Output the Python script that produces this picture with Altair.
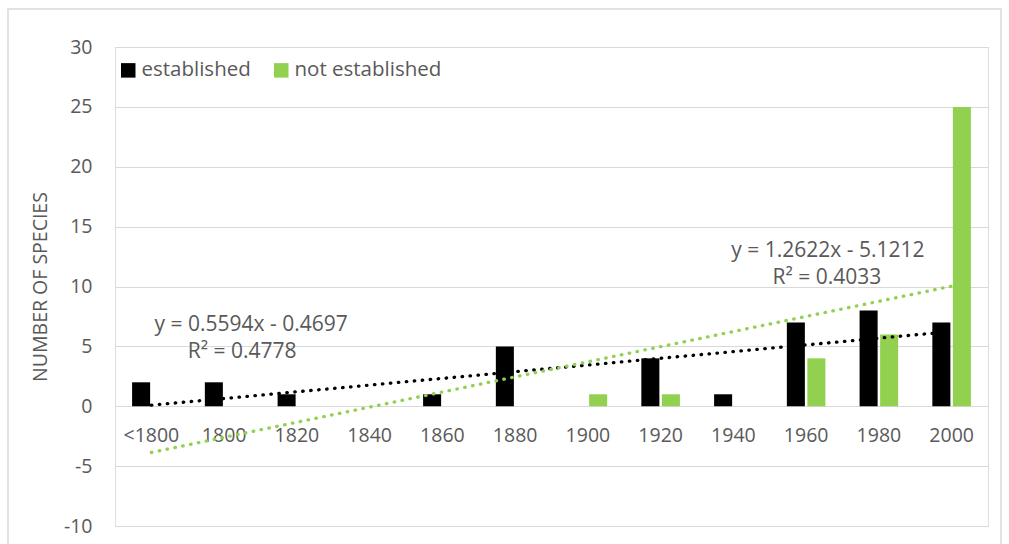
import altair as alt
import pandas as pd

categories = ["<1800", "1800", "1820", "1840", "1860", "1880", "1900", "1920", "1940", "1960", "1980", "2000"]
established = [2, 2, 1, 0, 1, 5, 0, 4, 1, 7, 8, 7]
not_established = [0, 0, 0, 0, 0, 0, 1, 1, 0, 4, 6, 25]
series_names = ["established", "not established"]
series_colors = ["#000000", "#92D050"]

# trendline equations as printed on the chart
est_slope, est_intercept, est_r2 = 0.5594, -0.4697, 0.4778
not_slope, not_intercept, not_r2 = 1.2622, -5.1212, 0.4033

FONT = "Open Sans"
TXT = "#595959"

rows = []
for c, e, n in zip(categories, established, not_established):
    rows.append({"cat": c, "series": "established", "value": e})
    rows.append({"cat": c, "series": "not established", "value": n})
bars_df = pd.DataFrame(rows)

trend_rows = []
for i, c in enumerate(categories, start=1):
    trend_rows.append({"cat": c, "series": "established", "trend": est_slope * i + est_intercept})
    trend_rows.append({"cat": c, "series": "not established", "trend": not_slope * i + not_intercept})
trend_df = pd.DataFrame(trend_rows)

x_enc = alt.X("cat:N", sort=categories, title=None,
              scale=alt.Scale(paddingInner=0.47, paddingOuter=0.235),
              axis=alt.Axis(orient="bottom", offset=-120, domain=False, ticks=False, tickSize=0,
                            labelPadding=20, labelAngle=0, grid=False,
                            labelFontSize=19.5, labelFont=FONT, labelColor=TXT))
y_scale = alt.Scale(domain=[-10, 30], nice=False, zero=False)
y_axis = alt.Axis(values=list(range(-10, 31, 5)), grid=True, gridColor="#D9D9D9", gridWidth=1,
                  domain=False, ticks=False, labelPadding=23, labelFontSize=19.5, labelFont=FONT,
                  labelColor=TXT, labelExpr="toString(datum.value)",
                  title="NUMBER OF SPECIES", titleFont=FONT, titleFontSize=19.5,
                  titleFontWeight="normal", titleColor=TXT, titleX=-75, titleY=239.5,
                  titleAngle=-90, titleAlign="center", titleBaseline="middle")

base = alt.Chart(bars_df)
bars = base.mark_bar().encode(
    x=x_enc,
    xOffset=alt.XOffset("series:N", sort=series_names, scale=alt.Scale(paddingInner=0.122)),
    y=alt.Y("value:Q", scale=y_scale, axis=y_axis),
    color=alt.Color("series:N", scale=alt.Scale(domain=series_names, range=series_colors),
                    legend=alt.Legend(orient="none", legendX=3, legendY=13, direction="horizontal",
                                      title=None, symbolType="square", symbolSize=210,
                                      symbolStrokeWidth=0, labelFontSize=20.5, labelFont=FONT,
                                      labelColor=TXT, labelOffset=3, columnPadding=20)),
)

def trend_layer(name, color):
    return alt.Chart(trend_df).transform_filter(alt.datum.series == name).mark_line(
        strokeWidth=3.3, strokeDash=[0.5, 7.5], strokeCap="round", color=color
    ).encode(x=alt.X("cat:N", sort=categories), y=alt.Y("trend:Q"))

def label_layer(cat, yval, text, dx):
    df = pd.DataFrame({"cat": [cat], "y": [yval], "t": [text]})
    return alt.Chart(df).mark_text(font=FONT, fontSize=21, color=TXT, dx=dx, align="center",
                                   baseline="middle").encode(
        x=alt.X("cat:N", sort=categories), y=alt.Y("y:Q"), text="t:N")

labels = [
    label_layer("1800", 6.77, f"y = {est_slope}x - {abs(est_intercept)}", 27),
    label_layer("1800", 4.51, f"R² = {est_r2}", 18),
    label_layer("1980", 12.95, f"y = {not_slope}x - {abs(not_intercept)}", -51),
    label_layer("1980", 10.69, f"R² = {not_r2}", -52),
]

border = alt.Chart(pd.DataFrame({"a": [0]})).mark_rect(
    fill=None, stroke="#D9D9D9", strokeWidth=1.5
).encode(x=alt.value(-107), x2=alt.value(886), y=alt.value(-38), y2=alt.value(540))

chart = alt.layer(
    border, bars, trend_layer("established", "#000000"),
    trend_layer("not established", "#92D050"), *labels
).properties(
    width=873, height=479, autosize="none",
    padding={"left": 115, "top": 47, "right": 21, "bottom": 18},
).configure_view(stroke=None).configure(background="white")

chart.save("out.html", embed_options={"renderer": "svg", "actions": False})
